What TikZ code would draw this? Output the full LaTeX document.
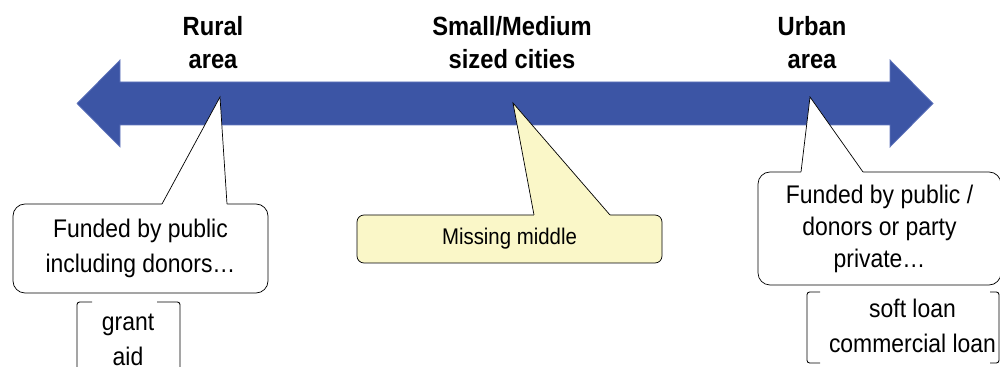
\documentclass[tikz,border=0pt]{standalone}
\usepackage{fontspec}
\setmainfont[FakeStretch=0.9]{Liberation Sans}
\definecolor{axisblue}{RGB}{60,85,165}
\definecolor{axisedge}{RGB}{100,120,190}
\definecolor{note}{RGB}{250,247,200}

\begin{document}
\begin{tikzpicture}[
  lbl/.style={font=\fontsize{15}{18.7}\selectfont\bfseries, align=center},
  bub/.style={draw, rounded corners=0.24cm, fill=white, align=center, inner sep=0pt,
    font=\fontsize{14.5}{20}\selectfont},
  brk/.style={rounded corners=1.5pt, line width=0.5pt}
]
\clip (0,0) rectangle (20,-7.34);
\useasboundingbox (0,0) rectangle (20,-7.34);

% the two-headed axis
\filldraw[fill=axisblue, draw=axisedge, line width=0.4pt]
  (1.54,-2.07) -- (2.40,-1.20) -- (2.40,-1.64) -- (17.80,-1.64) -- (17.80,-1.20)
  -- (18.66,-2.07) -- (17.80,-2.94) -- (17.80,-2.50) -- (2.40,-2.50) -- (2.40,-2.94) -- cycle;

\coordinate (tr) at (4.40,-1.94);
\coordinate (tm) at (10.26,-2.06);
\coordinate (tu) at (16.20,-1.94);

\node[lbl] (rural) at (4.26,-0.86) {Rural\\area};
\node[lbl] (small) at (10.24,-0.86) {Small/Medium\\sized cities};
\node[lbl] (urban) at (16.24,-0.86) {Urban\\area};

% callouts
\node[bub, minimum width=5.10cm, minimum height=1.78cm] (pub) at (2.81,-4.97)
  {Funded by public\\including donors…};
\fill[white] (3.24,-4.14) -- (3.24,-4.08) -- (tr) -- (4.54,-4.08) -- (4.54,-4.14) -- cycle;
\draw (3.24,-4.08) -- (tr) -- (4.54,-4.08);

\node[bub, fill=note, rounded corners=0.14cm, minimum width=6.10cm, minimum height=0.96cm,
  font=\fontsize{12.9}{15}\selectfont] (mid) at (10.19,-4.78) {Missing middle};
\fill[note] (10.68,-4.36) -- (10.68,-4.30) -- (tm) -- (12.20,-4.30) -- (12.20,-4.36) -- cycle;
\draw (10.68,-4.30) -- (tm) -- (12.20,-4.30);

\node[bub, minimum width=4.86cm, minimum height=2.26cm, font=\fontsize{14.5}{18.2}\selectfont]
  (pri) at (17.59,-4.57) {Funded by public /\\donors or party\\private…};
\fill[white] (16.02,-3.50) -- (16.02,-3.44) -- (tu) -- (17.26,-3.44) -- (17.26,-3.50) -- cycle;
\draw (16.02,-3.44) -- (tu) -- (17.26,-3.44);

% funding types in brackets
\node[align=center, font=\fontsize{14.5}{19.5}\selectfont] (grant) at (2.56,-6.80) {grant\\aid};
\draw[brk] (1.84,-6.04) -- (1.54,-6.04) -- (1.54,-7.60);
\draw[brk] (3.14,-6.04) -- (3.60,-6.04) -- (3.60,-7.60);

\node[align=center, font=\fontsize{14.5}{19.8}\selectfont] (loan) at (18.25,-6.52)
  {soft loan\\commercial loan};
\draw[brk] (16.40,-5.84) -- (16.14,-5.84) -- (16.14,-7.26) -- (16.40,-7.26);
\draw[brk] (19.80,-5.84) -- (19.98,-5.84) -- (19.98,-7.26) -- (19.80,-7.26);
\end{tikzpicture}
\end{document}
